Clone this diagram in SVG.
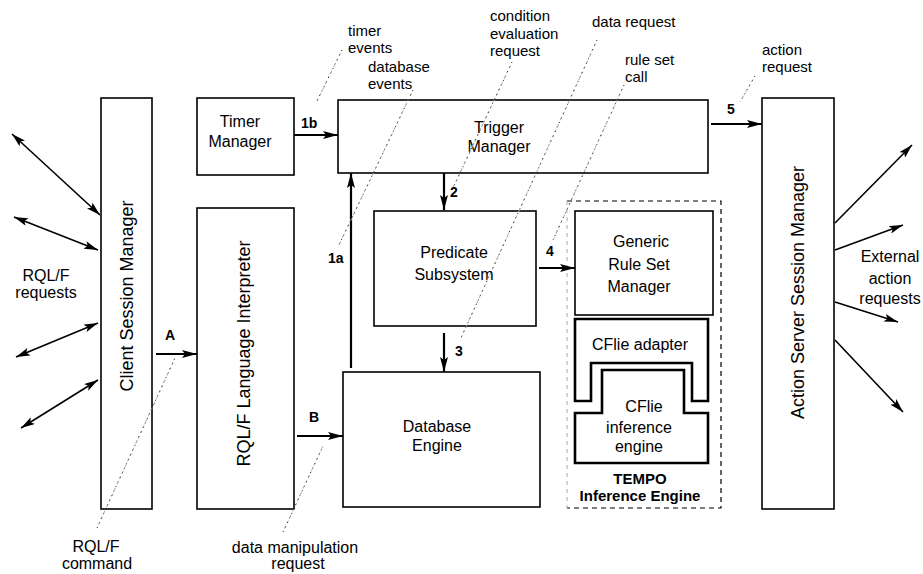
<svg xmlns="http://www.w3.org/2000/svg" width="923" height="574" viewBox="0 0 923 574">
<style>
text{font-family:"Liberation Sans",Arial,sans-serif;fill:#000}
.n{font-size:16px;text-anchor:middle}
.r{font-size:18px;text-anchor:middle}
.l{font-size:15px}
.lc{font-size:16px;text-anchor:middle}
.b{font-size:14px;font-weight:bold}
.bt{font-size:15px;font-weight:bold;text-anchor:middle}
.box{fill:#fff;stroke:#000;stroke-width:1.6}
.thick{fill:#fff;stroke:#000;stroke-width:2.6}
.arr{stroke:#000;stroke-width:2.2;fill:none;marker-end:url(#ah)}
.ext{stroke:#000;stroke-width:1.6;fill:none;marker-end:url(#ah2)}
.dbl{stroke:#000;stroke-width:1.6;fill:none;marker-start:url(#ah2);marker-end:url(#ah2)}
.lead{stroke:#333;stroke-width:1;fill:none;stroke-dasharray:1.2 3.8}
.lead2{stroke:#aaa;stroke-width:1;fill:none;stroke-dasharray:2.5 3.8;stroke-dashoffset:2.5}
.dash{stroke:#000;stroke-width:1.2;fill:none;stroke-dasharray:5 4}
</style>
<defs>
<marker id="ah" viewBox="0 0 15 8" refX="15" refY="4" markerWidth="15" markerHeight="8" markerUnits="userSpaceOnUse" orient="auto-start-reverse"><path d="M0,0 L15,4 L0,8 L3,4 z" fill="#000"/></marker>
<marker id="ah2" viewBox="0 0 14 8" refX="14" refY="4" markerWidth="14" markerHeight="8" markerUnits="userSpaceOnUse" orient="auto-start-reverse"><path d="M0,0 L14,4 L0,8 L3,4 z" fill="#000"/></marker>
</defs>
<rect width="923" height="574" fill="#fff"/>

<g id="client-session-manager">
<rect class="box" x="101" y="98" width="51" height="411"/>
<text class="r" transform="translate(132.5,296) rotate(-90)">Client Session Manager</text>
</g>
<g id="timer-manager">
<rect class="box" x="197" y="98" width="97" height="77"/>
<text class="n" x="240" y="127">Timer</text>
<text class="n" x="240" y="147">Manager</text>
</g>
<g id="rqlf-interpreter">
<rect class="box" x="197" y="208" width="97" height="301"/>
<text class="r" transform="translate(249.5,353.5) rotate(-90)">RQL/F Language Interpreter</text>
</g>
<g id="trigger-manager">
<rect class="box" x="338" y="100" width="370" height="73"/>
<text class="n" x="499" y="132.5">Trigger</text>
<text class="n" x="499" y="151.5">Manager</text>
</g>
<g id="predicate-subsystem">
<rect class="box" x="374" y="211" width="162" height="115"/>
<text class="n" x="454" y="258">Predicate</text>
<text class="n" x="454" y="280">Subsystem</text>
</g>
<g id="database-engine">
<rect class="box" x="343" y="372" width="197" height="135"/>
<text class="n" x="437" y="432">Database</text>
<text class="n" x="437" y="451">Engine</text>
</g>
<g id="tempo-inference-engine">
<path class="dash" d="M567,201 H721 V508 H567"/>
<line x1="567" y1="201" x2="567" y2="508" stroke="#aaa" stroke-width="1" stroke-dasharray="4 4"/>
<text class="bt" x="640" y="483.5">TEMPO</text>
<text class="bt" x="640" y="500.5">Inference Engine</text>
</g>
<g id="generic-rule-set-manager">
<rect class="box" x="575" y="211" width="138" height="104"/>
<text class="n" x="641" y="247">Generic</text>
<text class="n" x="639" y="269.5">Rule Set</text>
<text class="n" x="639" y="291.5">Manager</text>
</g>
<g id="cflie-adapter">
<path class="thick" d="M575,319 H708 V401 H692 V363 H591 V401 H575 Z"/>
<text class="n" x="640" y="349.5">CFlie adapter</text>
</g>
<g id="cflie-inference-engine">
<path class="thick" d="M602,370 H684 V413 H708 V463 H575 V413 H602 Z"/>
<text class="n" x="644" y="411.5">CFlie</text>
<text class="n" x="639" y="433">inference</text>
<text class="n" x="639" y="452">engine</text>
</g>
<g id="action-server-session-manager">
<rect class="box" x="762" y="98" width="72" height="411"/>
<text class="r" transform="translate(803.5,292.5) rotate(-90)">Action Server Session Manager</text>
</g>

<g id="connectors">
<line class="arr" x1="294" y1="135" x2="338" y2="135"/>
<line class="arr" x1="351" y1="368" x2="351" y2="173"/>
<line class="arr" x1="444" y1="173" x2="444" y2="210"/>
<line class="arr" x1="444" y1="333" x2="444" y2="372"/>
<line class="arr" x1="539" y1="268" x2="575" y2="268"/>
<line class="arr" x1="711" y1="124" x2="762" y2="124"/>
<line class="arr" x1="156" y1="354" x2="197" y2="354"/>
<line class="arr" x1="297" y1="436" x2="343" y2="436"/>
<line class="dbl" x1="12" y1="134" x2="100" y2="215"/>
<line class="dbl" x1="14" y1="217" x2="98" y2="250"/>
<line class="dbl" x1="16" y1="357" x2="98" y2="323"/>
<line class="dbl" x1="21" y1="428" x2="98" y2="380"/>
<line class="ext" x1="835" y1="223" x2="912" y2="145"/>
<line class="ext" x1="835" y1="250" x2="903" y2="225"/>
<line class="ext" x1="835" y1="302" x2="898" y2="322"/>
<line class="ext" x1="835" y1="340" x2="903" y2="412"/>
<g id="leaders">
<path class="lead2" d="M342,50 L316,103 M413,90 L338,247 M512,62 L452,190 M597,40 L460,340 M624,85 L553,240 M755,76 L740,102 M97,528 L175,358 M283,532 L323,446"/>
<path class="lead" d="M342,50 L316,103 M413,90 L338,247 M512,62 L452,190 M597,40 L460,340 M624,85 L553,240 M755,76 L740,102 M97,528 L175,358 M283,532 L323,446"/>
</g>
</g>

<g id="labels">
<text class="b" x="301" y="128">1b</text>
<text class="b" x="328" y="263">1a</text>
<text class="b" x="450" y="197">2</text>
<text class="b" x="455" y="356">3</text>
<text class="b" x="546" y="256">4</text>
<text class="b" x="727" y="114">5</text>
<text class="b" x="165" y="340">A</text>
<text class="b" x="309" y="422">B</text>
<text class="l" x="348" y="36">timer</text>
<text class="l" x="348" y="53">events</text>
<text class="l" x="368" y="72">database</text>
<text class="l" x="368" y="89">events</text>
<text class="l" x="490" y="21">condition</text>
<text class="l" x="490" y="39">evaluation</text>
<text class="l" x="490" y="56">request</text>
<text class="l" x="592" y="27">data request</text>
<text class="l" x="625" y="65">rule set</text>
<text class="l" x="625" y="82">call</text>
<text class="l" x="762" y="55">action</text>
<text class="l" x="762" y="72">request</text>
<text class="lc" x="46" y="281">RQL/F</text>
<text class="lc" x="46" y="298">requests</text>
<text class="lc" x="890" y="262">External</text>
<text class="lc" x="890" y="284">action</text>
<text class="lc" x="890" y="304">requests</text>
<text class="lc" x="96" y="552">RQL/F</text>
<text class="lc" x="97" y="569">command</text>
<text class="lc" x="295" y="553">data manipulation</text>
<text class="lc" x="298" y="569">request</text>
</g>
</svg>
